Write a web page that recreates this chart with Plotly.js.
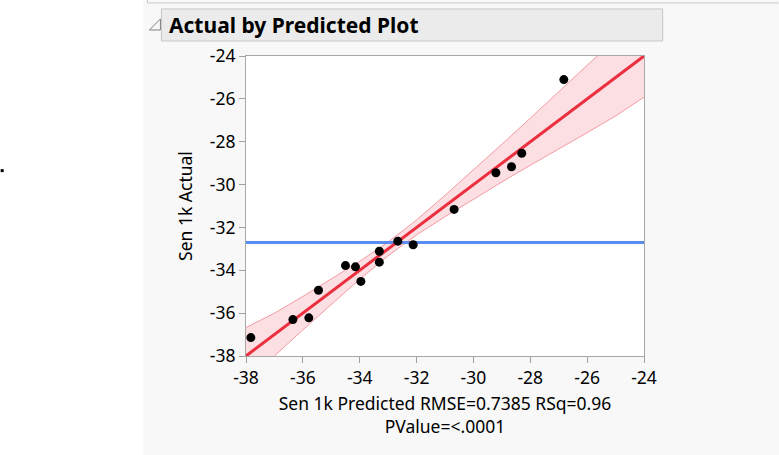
<!DOCTYPE html>
<html>
<head>
<meta charset="utf-8">
<script src="https://cdn.plot.ly/plotly-3.0.1.min.js"></script>
<style>
  html, body { margin:0; padding:0; }
  body { width:779px; height:455px; background: linear-gradient(to right, #ffffff 143px, #f8f8f8 143px); overflow:hidden; }
  #chart { width:779px; height:455px; }
</style>
</head>
<body>
<div id="chart"></div>
<script>
// Data
const predicted = [-37.83, -36.35, -35.79, -35.45, -34.50, -34.15, -33.96, -33.31, -33.31, -32.66, -32.12, -30.68, -29.21, -28.66, -28.30, -26.82];
const actual    = [-37.14, -36.30, -36.22, -34.93, -33.78, -33.84, -34.52, -33.11, -33.62, -32.64, -32.81, -31.16, -29.45, -29.17, -28.54, -25.10];
const meanActual = -32.70;
const fitX = [-38, -24];
const fitY = [-38, -24];
const bandX     = [-38, -37, -36, -35, -34, -33, -32, -31, -30, -29, -28, -27, -26, -25, -24];
const bandLower = [-39.33, -38.00, -36.78, -35.58, -34.42, -33.32, -32.35, -31.50, -30.68, -29.88, -29.10, -28.35, -27.58, -26.80, -25.92];
const bandUpper = [-36.67, -36.00, -35.22, -34.42, -33.58, -32.68, -31.65, -30.50, -29.32, -28.12, -26.90, -25.65, -24.42, -23.20, -22.08];
const xTicks = [-38, -36, -34, -32, -30, -28, -26, -24];
const yTicks = [-38, -36, -34, -32, -30, -28, -26, -24];

const L = 245.7, R = 644.3, T = 56, B = 355.7;
const W = 779, H = 455;
const px = x => (x - L) / (R - L);
const py = y => (B - y) / (B - T);
const FONT = 'Noto Sans, Open Sans, sans-serif';

const traces = [
  {x: bandX, y: bandLower, mode: 'lines', line: {color: 'rgba(240,120,130,0.7)', width: 1}, hoverinfo: 'skip', showlegend: false},
  {x: bandX, y: bandUpper, mode: 'lines', fill: 'tonexty', fillcolor: 'rgba(240,110,125,0.22)', line: {color: 'rgba(240,120,130,0.7)', width: 1}, hoverinfo: 'skip', showlegend: false},
  {x: [-38, -24], y: [meanActual, meanActual], mode: 'lines', line: {color: '#5b8cf0', width: 3}, showlegend: false},
  {x: fitX, y: fitY, mode: 'lines', line: {color: '#ec2f3f', width: 3}, showlegend: false},
  {x: predicted, y: actual, mode: 'markers', marker: {color: '#000000', size: 9}, showlegend: false}
];

const axisCommon = {
  range: [-38, -24], tickmode: 'array', ticks: 'outside', ticklen: 6, tickcolor: '#a0a0a0',
  showline: true, mirror: true, linecolor: '#a8a8a8', linewidth: 1, showgrid: false, zeroline: false,
  tickfont: {family: FONT, size: 17.5, color: '#000'}
};

const layout = {
  width: W, height: H,
  margin: {l: L, r: W - R, t: T, b: H - B, pad: 0},
  paper_bgcolor: 'rgba(0,0,0,0)', plot_bgcolor: '#ffffff',
  xaxis: Object.assign({}, axisCommon, {tickvals: xTicks, ticktext: xTicks.map(String),
    title: {text: 'Sen 1k Predicted RMSE=0.7385 RSq=0.96<br>PValue=<.0001', standoff: 9,
      font: {family: FONT, size: 17.5, color: '#000'}}}),
  yaxis: Object.assign({}, axisCommon, {tickvals: yTicks, ticktext: yTicks.map(String),
    title: {text: 'Sen 1k Actual', standoff: 12,
      font: {family: FONT, size: 17.5, color: '#000'}}}),
  shapes: [
    {type: 'line', xref: 'paper', yref: 'paper', x0: px(147), x1: px(779), y0: py(3), y1: py(3), line: {color: '#c8c8c8', width: 1}},
    {type: 'line', xref: 'paper', yref: 'paper', x0: px(147), x1: px(147), y0: py(0), y1: py(3), line: {color: '#c8c8c8', width: 1}},
    {type: 'rect', xref: 'paper', yref: 'paper', x0: px(161), x1: px(663), y0: py(41), y1: py(9), fillcolor: '#ebebeb', line: {color: '#c6c6c6', width: 1}},
    {type: 'path', xref: 'paper', yref: 'paper',
      path: `M ${px(149)} ${py(30)} L ${px(160)} ${py(30)} L ${px(160)} ${py(19)} Z`,
      fillcolor: 'rgba(0,0,0,0)', line: {color: '#808080', width: 1}},
    {type: 'rect', xref: 'paper', yref: 'paper', x0: px(0), x1: px(3), y0: py(172), y1: py(169), fillcolor: '#000', line: {width: 0}}
  ],
  annotations: [
    {xref: 'paper', yref: 'paper', x: px(167), y: py(25), xanchor: 'left', yanchor: 'middle', showarrow: false,
      text: '<b>Actual by Predicted Plot</b>', font: {family: FONT, size: 21, color: '#000'}}
  ]
};

Plotly.newPlot('chart', traces, layout, {displayModeBar: false, staticPlot: true});
</script>
</body>
</html>
